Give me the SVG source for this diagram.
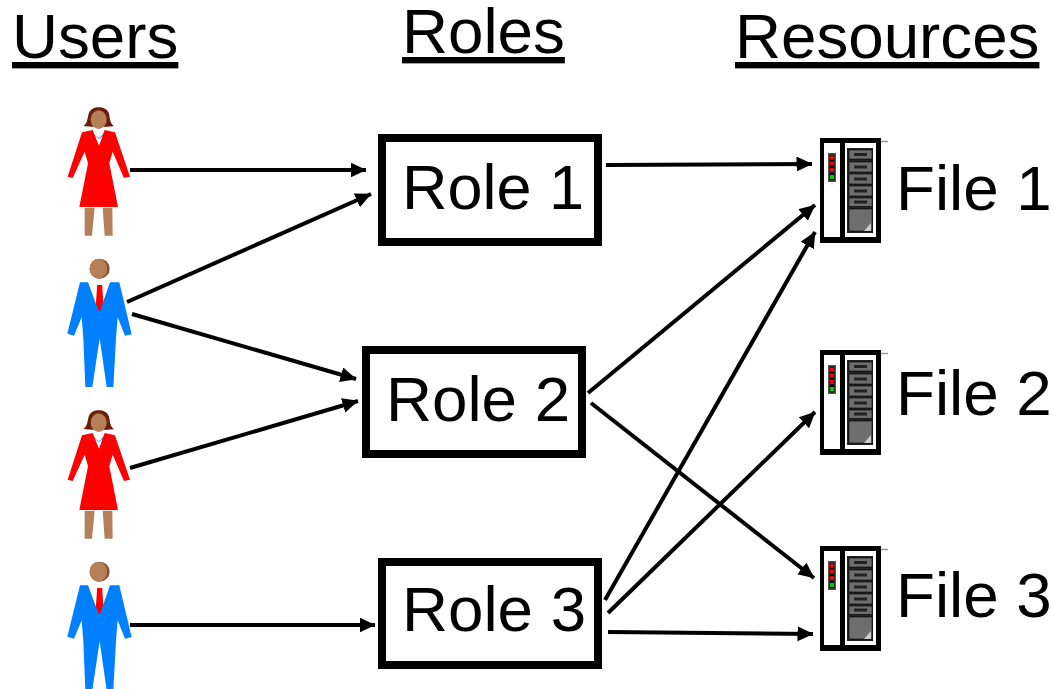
<svg xmlns="http://www.w3.org/2000/svg" width="1051" height="689" viewBox="0 0 1051 689">
<style>
text{font-family:"Liberation Sans",Arial,sans-serif;font-size:63.7px;fill:#000}
.u{text-decoration:underline;text-decoration-thickness:5.5px;text-underline-offset:7px}
.box{fill:#fff;stroke:#000;stroke-width:8}
.con{fill:none;stroke:#000;stroke-width:4;marker-end:url(#arr)}
.skin{fill:#b58058}
.led{fill:#f00}
.dr{fill:#6e6e6e;stroke:#000;stroke-width:.6}
.sl{fill:#222}
</style>
<defs>
<marker id="arr" markerUnits="userSpaceOnUse" markerWidth="18" markerHeight="16" refX="15.500" refY="7.500" orient="auto"><path d="M0 0L16 7.500L0 15z" fill="#000"/></marker>
<g id="woman" transform="scale(.3333)">
<path d="M100 93C112 85 112 70 116 56C122 40 136 37 146 37C160 37 172 42 177 56C180 70 180 85 192 93C175 97 118 97 100 93z" fill="#6b1d08"/>
<ellipse cx="146" cy="74" rx="24" ry="28" class="skin"/>
<path d="M104 338H134L126 422H104zM158 338H187L188 422H164z" class="skin"/>
<path d="M128 102H166V122L147 152L128 122z" fill="#fff"/>
<path d="M130 114L138 124L146 130L154 124L161 114L160 122L146 132L134 122z" fill="#0080ff"/>
<path d="M96 112L128 105L147 152L164 105L195 112L240 245L222 249L188 170L178 205L204 336H88L114 205L104 170L68 249L53 245z" fill="#f00"/>
</g>
<g id="man" transform="scale(.3333)">
<circle cx="149" cy="56" r="30" fill="#8a5428"/>
<ellipse cx="145" cy="56" rx="26" ry="30" class="skin"/>
<path d="M114 97H180L150 190z" fill="#fff"/>
<path d="M141 105H157V114L161 170L149 188L137 170L141 114z" fill="#f00"/>
<path d="M90 97H114L148 188L180 97H208L245 253L225 257L203 202L198 265L190 411H170L149 265L127 411H106L100 265L95 202L72 257L52 251z" fill="#0080ff"/>
</g>
<g id="server">
<rect x="820" y="138" width="61" height="105" fill="#000"/>
<path d="M881 141.500H888" stroke="#999" stroke-width="1.500"/>
<rect x="824" y="143" width="16" height="94" fill="#fff"/>
<rect x="845" y="143" width="31" height="94" fill="#fff"/>
<rect x="847" y="148" width="26" height="85" fill="#222"/>
<rect x="849" y="150" width="23" height="9" class="dr"/><rect x="854" y="153" width="13" height="3" class="sl"/>
<rect x="849" y="162" width="23" height="10" class="dr"/><rect x="854" y="165.500" width="13" height="3" class="sl"/>
<rect x="849" y="174" width="23" height="10" class="dr"/><rect x="854" y="177.500" width="13" height="3" class="sl"/>
<rect x="849" y="186" width="23" height="10" class="dr"/><rect x="854" y="189.500" width="13" height="3" class="sl"/>
<rect x="849" y="198" width="23" height="8.500" class="dr"/><rect x="854" y="200.500" width="13" height="3" class="sl"/>
<rect x="849" y="209" width="23" height="22" class="dr"/>
<path d="M864 231L871 223V231z" fill="#ccc"/>
<rect x="828" y="153" width="8" height="29" fill="#555"/>
<rect x="829.500" y="154.500" width="5" height="26" fill="#000"/>
<rect x="830" y="155.500" width="4" height="4" class="led"/>
<rect x="830" y="161.500" width="4" height="4" class="led"/>
<rect x="830" y="168" width="4" height="4" class="led"/>
<rect x="830" y="175" width="4" height="4" fill="#0c0"/>
</g>
</defs>
<g id="connectors">
<path class="con" d="M130 170H366"/>
<path class="con" d="M127 302L371 194"/>
<path class="con" d="M132 314L356 379"/>
<path class="con" d="M130 468L358 401"/>
<path class="con" d="M130 625H375"/>
<path class="con" d="M606 165L812 164"/>
<path class="con" d="M588 393L815 205"/>
<path class="con" d="M591 403L814 578"/>
<path class="con" d="M605 600L815 232"/>
<path class="con" d="M608 613L815 412"/>
<path class="con" d="M608 632L813 634"/>
</g>
<g id="header-users"><text class="u" x="12" y="58">Users</text></g>
<g id="header-roles"><text class="u" x="402" y="53">Roles</text></g>
<g id="header-resources"><text class="u" x="735" y="58">Resources</text></g>
<g id="user-1"><use href="#woman" transform="translate(50,95)"/></g>
<g id="user-2"><use href="#man" transform="translate(50,250)"/></g>
<g id="user-3"><use href="#woman" transform="translate(50,398)"/></g>
<g id="user-4"><use href="#man" transform="translate(50,553)"/></g>
<g id="role-1"><rect class="box" x="382" y="138" width="216" height="104"/><text x="402" y="209" style="font-size:63px">Role 1</text></g>
<g id="role-2"><rect class="box" x="366" y="350" width="216" height="104"/><text x="386" y="421">Role 2</text></g>
<g id="role-3"><rect class="box" x="382" y="562" width="216" height="103"/><text x="402" y="631">Role 3</text></g>
<g id="file-1"><use href="#server"/><text x="896" y="210">File 1</text></g>
<g id="file-2"><use href="#server" transform="translate(0,212)"/><text x="896" y="415">File 2</text></g>
<g id="file-3"><use href="#server" transform="translate(0,408)"/><text x="896" y="617">File 3</text></g>
</svg>
